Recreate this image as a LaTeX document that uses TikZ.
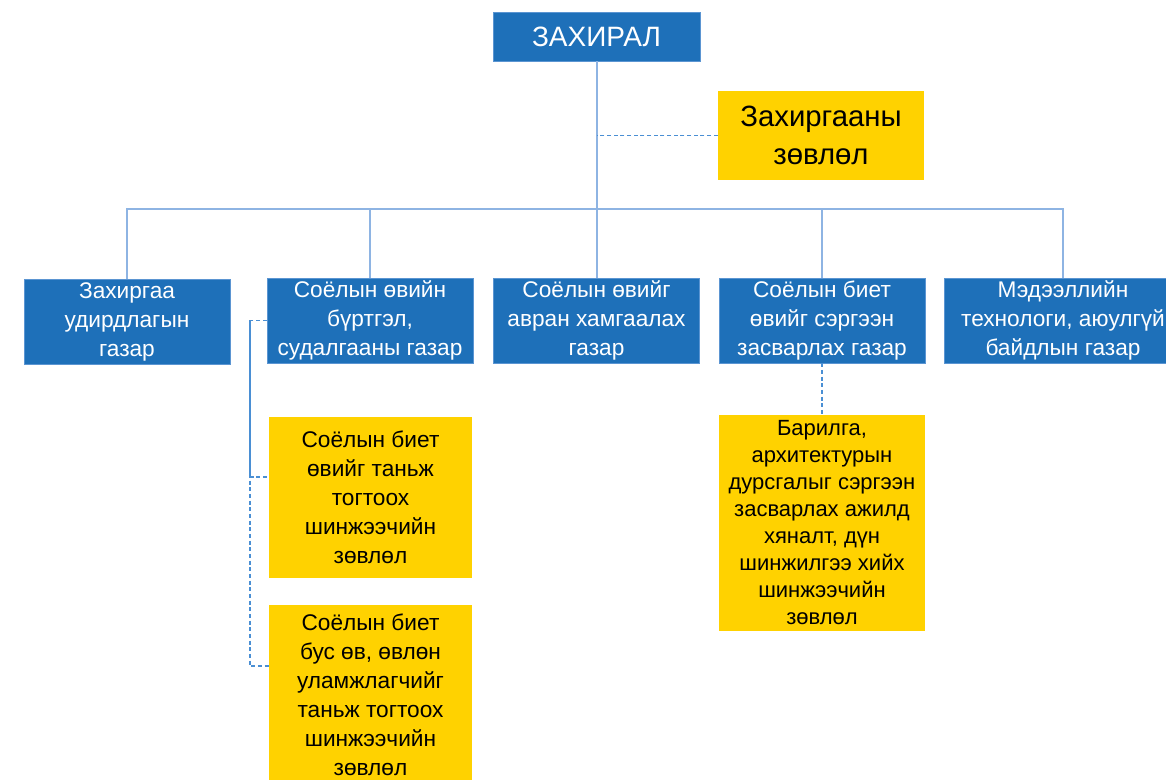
\documentclass[tikz,border=0pt]{standalone}
\usepackage{fontspec}
\setmainfont{Liberation Sans}
\usepackage{xcolor}
\usepackage{tikz}
\usetikzlibrary{positioning, calc}
\definecolor{deptblue}{HTML}{1E70B9}
\definecolor{edgeblue}{HTML}{5B95D2}
\definecolor{linkblue}{HTML}{8EB4E3}
\definecolor{dashblue}{HTML}{4A8FD4}
\definecolor{councilgold}{HTML}{FFD200}

\begin{document}
\begin{tikzpicture}[x=0.75pt, y=-0.75pt,
  headbox/.style={draw=edgeblue, fill=deptblue, text=white, minimum width=155.25pt, minimum height=36.75pt, inner sep=1pt, font=\fontsize{21}{25}\selectfont},
  deptbox/.style={draw=edgeblue, fill=deptblue, text=white, minimum width=154.5pt, minimum height=63.75pt, inner sep=1pt, align=center, font=\fontsize{17}{21.75}\selectfont},
  councilbox/.style={fill=councilgold, text=black, minimum width=154.5pt, minimum height=66.75pt, inner sep=1pt, align=center, font=\fontsize{22}{28.5}\selectfont},
  expertbox/.style={fill=councilgold, text=black, minimum width=152.25pt, inner sep=1pt, align=center, font=\fontsize{17}{21.75}\selectfont},
  link/.style={draw=linkblue, line width=1.5pt},
  dashlink/.style={draw=dashblue, line width=1.3pt, dash pattern=on 3pt off 2pt}
]
  \useasboundingbox (0,0) rectangle (1166,779);
  \clip (0,0) rectangle (1166,779);

  % Director and council
  \node[headbox] (dir) at (596.5, 36.5) {ЗАХИРАЛ};
  \node[councilbox] (council) at (821, 135.5) {Захиргааны\\зөвлөл};

  % Departments
  \node[deptbox] (dep1) at (127, 321.5) {Захиргаа\\удирдлагын\\газар};
  \node[deptbox] (dep2) at (370, 320.5) {Соёлын өвийн\\бүртгэл,\\судалгааны газар};
  \node[deptbox] (dep3) at (596.5, 320.5) {Соёлын өвийг\\авран хамгаалах\\газар};
  \node[deptbox] (dep4) at (822, 320.5) {Соёлын биет\\өвийг сэргээн\\засварлах газар};
  \node[deptbox, minimum width=178.5pt] (dep5) at (1063, 320.5) {Мэдээллийн\\технологи, аюулгүй\\байдлын газар};

  % Expert councils
  \node[expertbox, minimum height=120.75pt] (exp1) at (370.5, 497.5) {Соёлын биет\\өвийг таньж\\тогтоох\\шинжээчийн\\зөвлөл};
  \node[expertbox, minimum height=135pt] (exp2) at (370.5, 695) {Соёлын биет\\бус өв, өвлөн\\уламжлагчийг\\таньж тогтоох\\шинжээчийн\\зөвлөл};
  \node[expertbox, minimum width=154.5pt, minimum height=162pt, font=\fontsize{16.5}{20.25}\selectfont] (exp3) at (822, 523) {Барилга,\\архитектурын\\дурсгалыг сэргээн\\засварлах ажилд\\хяналт, дүн\\шинжилгээ хийх\\шинжээчийн\\зөвлөл};

  % Solid links
  \coordinate (bus) at (596.5, 209);
  \draw[link] (dir.south) -- (dep3.north);
  \foreach \n in {dep1, dep2, dep4, dep5} {
    \draw[link] (\n.north) |- (bus);
  }

  % Dashed links
  \draw[dashlink] (council.west) -- (council.west -| dir.south);
  \draw[dashlink] (dep2.west) -- ++(-17,0) coordinate (rail) |- ([yshift=15.4pt]exp1.west);
  \draw[dashlink] (rail) |- ([yshift=22pt]exp2.west);
  \draw[dashlink] (dep4.south) -- (exp3.north);
\end{tikzpicture}
\end{document}
